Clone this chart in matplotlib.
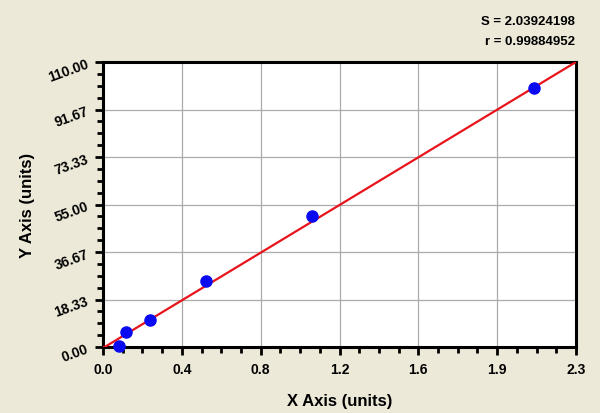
import numpy as np
import matplotlib
matplotlib.use("Agg")
import matplotlib.pyplot as plt
from matplotlib.ticker import AutoMinorLocator

x_vals = [0.08, 0.11, 0.23, 0.50, 1.015, 2.095]
y_vals = [0.5, 5.8, 10.4, 25.4, 50.5, 100.1]
fit_intercept = -0.4
fit_slope = 48.0
x_tick_labels = ["0.0", "0.4", "0.8", "1.2", "1.6", "1.9", "2.3"]
y_tick_labels = ["0.00", "18.33", "36.67", "55.00", "73.33", "91.67", "110.00"]
x_max = 2.3
y_max = 110.0
stats = ["S = 2.03924198", "r = 0.99884952"]

bg = "#ECE9D8"
plt.rcParams['font.family'] = ['Liberation Sans', 'DejaVu Sans']
fig = plt.figure(figsize=(6, 4.14), dpi=100, facecolor=bg)
ax = fig.add_axes([103/600, 1-348/414, 473/600, 285/414])
ax.set_facecolor("white")

xt = np.linspace(0, x_max, len(x_tick_labels))
yt = np.linspace(0, y_max, len(y_tick_labels))
ax.set_xlim(0, x_max)
ax.set_ylim(0, y_max)
ax.set_xticks(xt)
ax.set_xticklabels(x_tick_labels, fontsize=10, fontweight='bold')
ax.set_yticks(yt)
ax.set_yticklabels(y_tick_labels, fontsize=10, fontweight='bold', rotation=20)
ax.xaxis.set_minor_locator(AutoMinorLocator(4))
ax.yaxis.set_minor_locator(AutoMinorLocator(4))
ax.tick_params(which='major', length=6, width=2, direction='out', pad=3)
ax.tick_params(axis='x', which='major', pad=5)
ax.tick_params(which='minor', length=4, width=2, direction='out')
ax.grid(True, which='major', color='#ABABAB', linewidth=0.9)
ax.set_axisbelow(True)
for s in ax.spines.values():
    s.set_linewidth(2.2)
    s.set_color('black')

xl = np.linspace(0, x_max, 200)
yl = np.clip(fit_intercept + fit_slope * xl, 0, None)
ax.plot(xl, yl, color='#E8141C', linewidth=1.6, zorder=3, clip_on=True)
ax.plot(x_vals, y_vals, 'o', color='#0A0AF0', markersize=8, zorder=4, clip_on=False)

ax.set_xlabel("X Axis (units)", fontsize=12, fontweight='bold', labelpad=12)
ax.set_ylabel("Y Axis (units)", fontsize=12, fontweight='bold', labelpad=8)

fig.text(575/600, 1-22/414, stats[0], ha='right', va='center', fontsize=9.5, fontweight='bold')
fig.text(575/600, 1-42/414, stats[1], ha='right', va='center', fontsize=9.5, fontweight='bold')

fig.savefig("out.png", dpi=100, facecolor=bg)
